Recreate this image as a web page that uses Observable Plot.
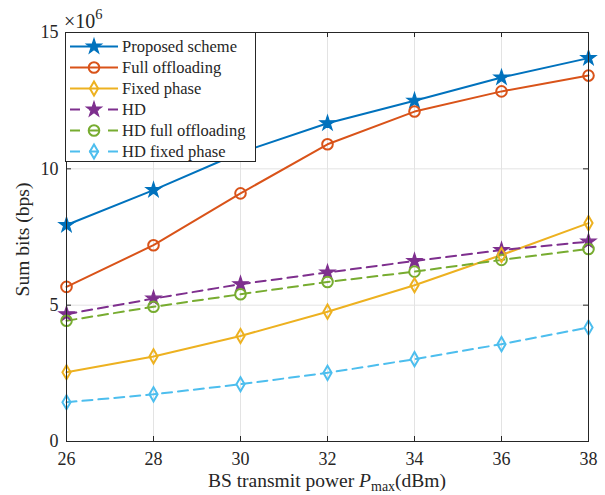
<!DOCTYPE html>
<html><head><meta charset="utf-8">
<script src="https://cdn.jsdelivr.net/npm/d3@7"></script>
<script src="https://cdn.jsdelivr.net/npm/@observablehq/plot@0.6"></script>
<style>
body{margin:0;background:#fff;}
#wrap{position:relative;width:605px;height:495px;font-family:"Liberation Serif","Times New Roman",serif;color:#262626;}
#legend{position:absolute;left:65px;top:32px;width:189px;height:128px;border:1px solid #262626;background:#fff;}
.row{position:absolute;left:0;height:21px;width:189px;}
.row svg{position:absolute;left:3px;top:0;}
.row span{position:absolute;left:56px;top:1px;font-size:16.5px;line-height:20px;white-space:nowrap;}
</style></head><body><div id="wrap"></div>
<script>
const power = [26, 28, 30, 32, 34, 36, 38];
const proposed = [7.94, 9.22, 10.6, 11.67, 12.5, 13.35, 14.06];
const fullOffloading = [5.67, 7.2, 9.1, 10.9, 12.1, 12.84, 13.42];
const fixedPhase = [2.54, 3.12, 3.87, 4.76, 5.73, 6.84, 8.01];
const hd = [4.67, 5.24, 5.77, 6.2, 6.62, 7.02, 7.33];
const hdFull = [4.43, 4.94, 5.4, 5.85, 6.23, 6.66, 7.06];
const hdFixed = [1.44, 1.73, 2.1, 2.52, 3.02, 3.57, 4.18];
const names = ["Proposed scheme", "Full offloading", "Fixed phase", "HD", "HD full offloading", "HD fixed phase"];
const colors = ["#0072BD", "#D95319", "#EDB120", "#7E2F8E", "#77AC30", "#4DBEEE"];
const symbols = ["star", "circle", "diamond", "star", "circle", "diamond"];
const dashed = [false, false, false, true, true, true];
const xTicks = [26, 28, 30, 32, 34, 36, 38];
const yTicks = [0, 5, 10, 15];

const values = [proposed, fullOffloading, fixedPhase, hd, hdFull, hdFixed];
const data = [];
values.forEach((vals, i) => vals.forEach((v, j) => data.push({series: names[i], x: power[j], y: v, sym: symbols[i], dashed: dashed[i]})));

const W = 605, H = 495, mL = 66, mR = 17, mT = 32, mB = 54;
const pw = W - mL - mR, ph = H - mT - mB;
const ink = "#262626";
const grid = "#e3e3e3";
const rBy = {star: 4.7, circle: 5.3, diamond: 4.3};

const marks = [
  Plot.gridX(xTicks, {stroke: grid, strokeOpacity: 1, strokeWidth: 1}),
  Plot.gridY(yTicks, {stroke: grid, strokeOpacity: 1, strokeWidth: 1}),
  Plot.line(data.filter(d => !d.dashed), {x: "x", y: "y", z: "series", stroke: "series", strokeWidth: 2}),
  Plot.line(data.filter(d => d.dashed), {x: "x", y: "y", z: "series", stroke: "series", strokeWidth: 2, strokeDasharray: "10,6"}),
  Plot.dot(data.filter(d => d.sym === "star"), {x: "x", y: "y", symbol: "star", r: rBy.star, fill: "series", stroke: "series", strokeWidth: 1.2}),
  Plot.dot(data.filter(d => d.sym === "circle"), {x: "x", y: "y", symbol: "circle", r: rBy.circle, fill: "none", stroke: "series", strokeWidth: 2}),
  Plot.dot(data.filter(d => d.sym === "diamond"), {x: "x", y: "y", symbol: "diamond", r: rBy.diamond, fill: "none", stroke: "series", strokeWidth: 2}),
  Plot.frame({stroke: ink, strokeWidth: 1}),
  Plot.tickX(xTicks, {x: d => d, stroke: ink, insetTop: ph - 5}),
  Plot.tickX(xTicks, {x: d => d, stroke: ink, insetBottom: ph - 5}),
  Plot.tickY(yTicks, {y: d => d, stroke: ink, insetRight: pw - 5}),
  Plot.tickY(yTicks, {y: d => d, stroke: ink, insetLeft: pw - 5}),
  Plot.axisX(xTicks, {anchor: "bottom", tickSize: 0, tickPadding: 11, fontSize: 18, fill: ink, label: null}),
  Plot.axisY(yTicks, {anchor: "left", tickSize: 0, tickPadding: 8, fontSize: 18, fill: ink, label: null})
];

const chart = Plot.plot({
  width: W, height: H,
  marginLeft: mL, marginRight: mR, marginTop: mT, marginBottom: mB,
  style: {fontFamily: '"Liberation Serif","Times New Roman",serif', background: "#fff", color: ink},
  x: {domain: [26, 38]},
  y: {domain: [0, 15]},
  color: {domain: names, range: colors},
  marks
});

const wrap = document.getElementById("wrap");
wrap.appendChild(chart);

const svg = d3.select(chart);
const xl = svg.append("text").attr("x", mL + pw / 2).attr("y", 487).attr("text-anchor", "middle")
  .attr("font-size", 19.5).attr("fill", ink);
xl.append("tspan").text("BS transmit power ");
xl.append("tspan").attr("font-style", "italic").text("P");
xl.append("tspan").attr("font-size", 14).attr("dy", 4).text("max");
xl.append("tspan").attr("dy", -4).text("(dBm)");

svg.append("text").attr("transform", `translate(29,${mT + ph / 2 + 3}) rotate(-90)`).attr("text-anchor", "middle")
  .attr("font-size", 19.5).attr("fill", ink).text("Sum bits (bps)");

const ex = svg.append("text").attr("x", 64).attr("y", 28).attr("text-anchor", "start").attr("font-size", 20).attr("fill", ink);
ex.append("tspan").text("×10");
ex.append("tspan").attr("font-size", 14.5).attr("dy", -9).text("6");

const leg = document.createElement("div");
leg.id = "legend";
wrap.appendChild(leg);
const symMap = {star: d3.symbolStar, circle: d3.symbolCircle, diamond: d3.symbolDiamond};
names.forEach((n, i) => {
  const row = document.createElement("div");
  row.className = "row";
  row.style.top = (3 + 21 * i) + "px";
  leg.appendChild(row);
  const s = d3.select(row).append("svg").attr("width", 52).attr("height", 21);
  s.append("line").attr("x1", 1).attr("x2", 49).attr("y1", 10.5).attr("y2", 10.5)
    .attr("stroke", colors[i]).attr("stroke-width", 2)
    .attr("stroke-dasharray", dashed[i] ? "10,9,10,9,10" : null);
  const r = rBy[symbols[i]];
  const path = d3.symbol(symMap[symbols[i]], Math.PI * r * r)();
  s.append("path").attr("d", path).attr("transform", "translate(25,10.5)")
    .attr("fill", symbols[i] === "star" ? colors[i] : "none")
    .attr("stroke", colors[i]).attr("stroke-width", symbols[i] === "star" ? 1.2 : 2);
  const sp = document.createElement("span");
  sp.textContent = n;
  row.appendChild(sp);
});
</script>
</body></html>
